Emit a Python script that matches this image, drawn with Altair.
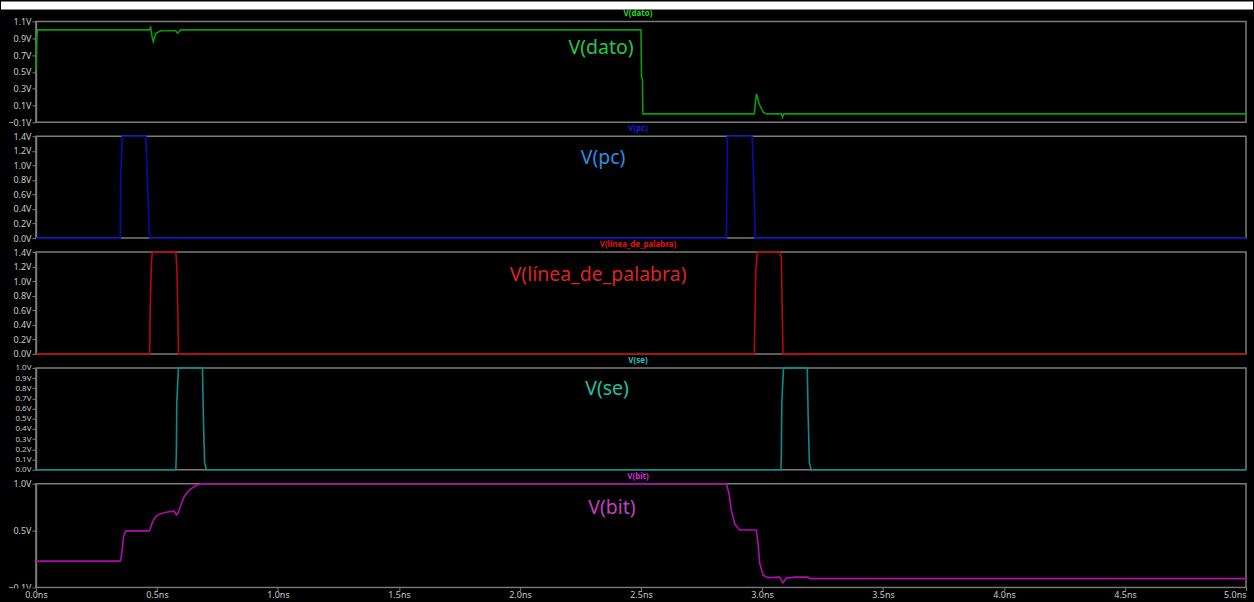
import altair as alt
import pandas as pd

# ---- waveform samples (time in ns, value in V) ----
dato_t = [0.0, 0.004, 0.007, 0.468, 0.474, 0.481, 0.485, 0.495, 0.516, 0.578, 0.585, 0.598,
          2.500, 2.502, 2.506, 2.508, 2.968, 2.977, 2.988, 3.005, 3.018, 3.080, 3.085, 3.090, 5.0]
dato_v = [0.52, 0.94, 1.0, 1.0, 1.03, 0.90, 0.86, 0.96, 0.99, 0.99, 0.96, 1.0,
          1.0, 0.44, 0.41, 0.0, 0.0, 0.24, 0.12, 0.02, 0.0, 0.0, -0.04, 0.0, 0.0]

pc_t = [0.0, 0.348, 0.350, 0.357, 0.454, 0.458, 0.461, 0.470,
        2.853, 2.855, 2.857, 2.959, 2.964, 2.970, 2.971, 5.0]
pc_v = [0.0, 0.0, 0.85, 1.4, 1.4, 1.0, 0.74, 0.0,
        0.0, 0.64, 1.4, 1.4, 0.96, 0.28, 0.0, 0.0]

wl_t = [0.0, 0.470, 0.472, 0.477, 0.481, 0.578, 0.582, 0.587, 0.589,
        2.968, 2.970, 2.974, 2.981, 3.073, 3.080, 3.084, 3.087, 5.0]
wl_v = [0.0, 0.0, 0.6, 1.25, 1.4, 1.4, 1.2, 0.47, 0.0,
        0.0, 0.31, 1.12, 1.4, 1.4, 1.32, 0.5, 0.0, 0.0]

se_t = [0.0, 0.578, 0.580, 0.582, 0.589, 0.688, 0.692, 0.697, 0.704,
        3.078, 3.080, 3.082, 3.089, 3.187, 3.191, 3.196, 3.203, 5.0]
se_v = [0.0, 0.0, 0.15, 0.66, 1.0, 1.0, 0.5, 0.07, 0.0,
        0.0, 0.15, 0.66, 1.0, 1.0, 0.5, 0.07, 0.0, 0.0]

bit_t = [0.0, 0.348, 0.353, 0.362, 0.371, 0.468, 0.472, 0.481, 0.495, 0.516, 0.543, 0.571,
         0.580, 0.587, 0.598, 0.612, 0.632, 0.660, 0.681,
         2.853, 2.864, 2.874, 2.888, 2.908, 2.977, 2.984, 2.991, 3.005, 3.025, 3.073,
         3.087, 3.101, 3.135, 3.190, 3.197, 5.0]
bit_v = [0.18, 0.18, 0.225, 0.44, 0.50, 0.50, 0.52, 0.59, 0.655, 0.683, 0.70, 0.71,
         0.67, 0.69, 0.77, 0.86, 0.93, 0.98, 1.0,
         1.0, 0.89, 0.71, 0.57, 0.51, 0.51, 0.36, 0.15, 0.03, 0.005, 0.01,
         -0.05, 0.0, 0.01, 0.01, -0.005, -0.005]

x_ticks = [0.0, 0.5, 1.0, 1.5, 2.0, 2.5, 3.0, 3.5, 4.0, 4.5, 5.0]

panels = [
    # name, times, values, domain, y ticks, trace colour, header colour, label colour, label x, label y, height
    ("V(dato)", dato_t, dato_v, [-0.1, 1.1], [-0.1, 0.1, 0.3, 0.5, 0.7, 0.9, 1.1],
     "#0a9a0a", "#22dd22", "#22c84a", 566, 27, 101),
    ("V(pc)", pc_t, pc_v, [0.0, 1.4], [0.0, 0.2, 0.4, 0.6, 0.8, 1.0, 1.2, 1.4],
     "#0a0ab4", "#1a1ae0", "#2a8ee6", 568, 22, 102),
    ("V(línea_de_palabra)", wl_t, wl_v, [0.0, 1.4], [0.0, 0.2, 0.4, 0.6, 0.8, 1.0, 1.2, 1.4],
     "#b40a0a", "#e01414", "#dc2424", 563, 23, 102),
    ("V(se)", se_t, se_v, [0.0, 1.0], [0.0, 0.1, 0.2, 0.3, 0.4, 0.5, 0.6, 0.7, 0.8, 0.9, 1.0],
     "#0a8c8c", "#20c4c4", "#22c0a0", 572, 21, 102),
    ("V(bit)", bit_t, bit_v, [-0.1, 1.0], [-0.1, 0.5, 1.0],
     "#b40ab4", "#d826d8", "#c040c0", 577, 24, 104),
]

FONT = "Noto Sans"
GRID = "#7c7c7c"
LABEL = "#c8c8c8"
PLOT_W = 1212

charts = []
for i, (name, ts, vs, dom, yt, col, hcol, lcol, lx, ly, h) in enumerate(panels):
    df = pd.DataFrame({"t": ts, "v": vs})
    last = i == len(panels) - 1
    lsize = 8 if len(yt) > 8 else 9
    if last:
        xaxis = alt.Axis(values=x_ticks, labelExpr="format(datum.value, '.1f') + 'ns'",
                         title=None, grid=False, domain=False, tickColor=GRID, tickSize=3,
                         labelColor=LABEL, labelFont=FONT, labelFontSize=9, labelPadding=0,
                         labelOverlap=False, labelFlush=False, zindex=2,
                         labelAlign={"condition": {"test": "datum.value >= 5", "value": "right"},
                                     "value": "center"})
    else:
        xaxis = None
    line = alt.Chart(df).mark_line(color=col, strokeWidth=1.6, interpolate="linear").encode(
        x=alt.X("t:Q", scale=alt.Scale(domain=[0, 5], nice=False, zero=False), axis=xaxis),
        y=alt.Y("v:Q", scale=alt.Scale(domain=dom, nice=False, zero=False),
                axis=alt.Axis(values=yt, labelExpr="format(datum.value, '.1f') + 'V'",
                              title=None, grid=False, domainColor=GRID, domainWidth=1.5,
                              tickColor=GRID, tickSize=4, labelColor=LABEL, labelFont=FONT,
                              labelFontSize=lsize, labelPadding=1, labelOverlap=False)),
    )
    one = pd.DataFrame({"name": [name]})
    header = alt.Chart(one).mark_text(color=hcol, font=FONT, fontSize=8, fontWeight="bold",
                                      baseline="middle", align="center").encode(
        text="name:N", x=alt.value(603), y=alt.value(-7))
    big = alt.Chart(one).mark_text(color=lcol, font=FONT, fontSize=19.5,
                                   baseline="middle", align="center").encode(
        text="name:N", x=alt.value(lx), y=alt.value(ly))
    layers = [line, header, big]
    frame = pd.DataFrame({"a": [0]})
    if i == 0:
        # white band above the first panel
        strip = alt.Chart(frame).mark_rect(color="white").encode(
            x=alt.value(-35), x2=alt.value(PLOT_W + 7), y=alt.value(-20), y2=alt.value(-12))
        layers = [strip] + layers
    if last:
        # black band under the time axis, closing the canvas at the bottom
        pad = alt.Chart(frame).mark_rect(color="black").encode(
            x=alt.value(-35), x2=alt.value(PLOT_W + 7), y=alt.value(h + 1), y2=alt.value(h + 15))
        layers = [pad] + layers
    charts.append(alt.layer(*layers).properties(width=PLOT_W, height=h))

chart = alt.vconcat(*charts, spacing=14, bounds="flush").properties(
    background="black", padding=0
).configure_view(stroke=GRID, strokeWidth=1.5, fill="black")

chart.save("out.html", embed_options={"renderer": "svg", "actions": False})
